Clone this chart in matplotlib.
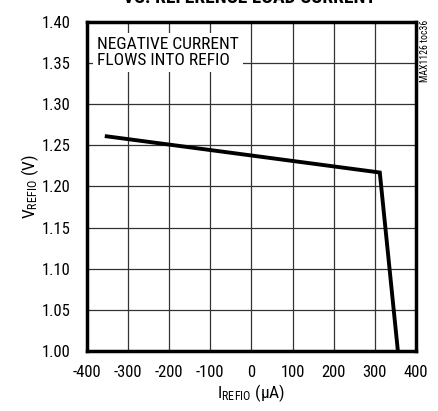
import matplotlib
matplotlib.use("Agg")
import matplotlib.pyplot as plt
from matplotlib import font_manager

# valeurs
courant_ua = [-352, 312, 356]
tension_v = [1.261, 1.217, 1.000]
x_ticks = [-400, -300, -200, -100, 0, 100, 200, 300, 400]
y_ticks = [1.00, 1.05, 1.10, 1.15, 1.20, 1.25, 1.30, 1.35, 1.40]

# police etroite si disponible
dispo = set(f.name for f in font_manager.fontManager.ttflist)
police = 'Liberation Sans'
for nom in ['Roboto Condensed', 'Fira Sans Condensed', 'Archivo Narrow', 'Liberation Sans Narrow', 'Fira Sans Extra Condensed']:
    if nom in dispo:
        police = nom
        break

plt.rcParams['font.family'] = [police, 'DejaVu Sans']
plt.rcParams['mathtext.fontset'] = 'custom'
plt.rcParams['mathtext.rm'] = police
plt.rcParams['mathtext.it'] = police

fig = plt.figure(figsize=(4.38, 4.11), dpi=100)
ax = fig.add_axes([0.1986, 0.146, 0.7511, 0.8005])

ax.plot(courant_ua, tension_v, color='black', linewidth=2.8, solid_joinstyle='miter', zorder=3)

ax.set_xlim(-400, 400)
ax.set_ylim(1.00, 1.40)
ax.set_xticks(x_ticks)
ax.set_yticks(y_ticks)
ax.set_xticklabels([str(v) for v in x_ticks])
ax.set_yticklabels([f"{v:.2f}" for v in y_ticks])
ax.grid(True, color='#333333', linewidth=0.9)
ax.tick_params(length=0, labelsize=12)
ax.tick_params(axis='y', pad=12)
ax.tick_params(axis='x', pad=10)
for s in ax.spines.values():
    s.set_linewidth(2.5)

ax.set_xlabel(r'I$_{\mathregular{REFIO}}$ ($\mathregular{\mu}$A)', fontsize=12.5, labelpad=2)
ax.set_ylabel(r'V$_{\mathregular{REFIO}}$ (V)', fontsize=12.5, labelpad=0)

ax.text(-376, 1.3815, "NEGATIVE CURRENT\nFLOWS INTO REFIO", fontsize=12.5, va='top', ha='left',
        linespacing=1.05, zorder=4,
        bbox=dict(facecolor='white', edgecolor='none', pad=3))

fig.text(0.971, 0.875, "MAX1126 toc36", rotation=90, fontsize=7, ha='center', va='center')
fig.text(0.57, 0.992, "VS. REFERENCE LOAD CURRENT", fontsize=14, fontweight='bold',
         ha='center', va='baseline')

fig.savefig("out.png", dpi=100)
